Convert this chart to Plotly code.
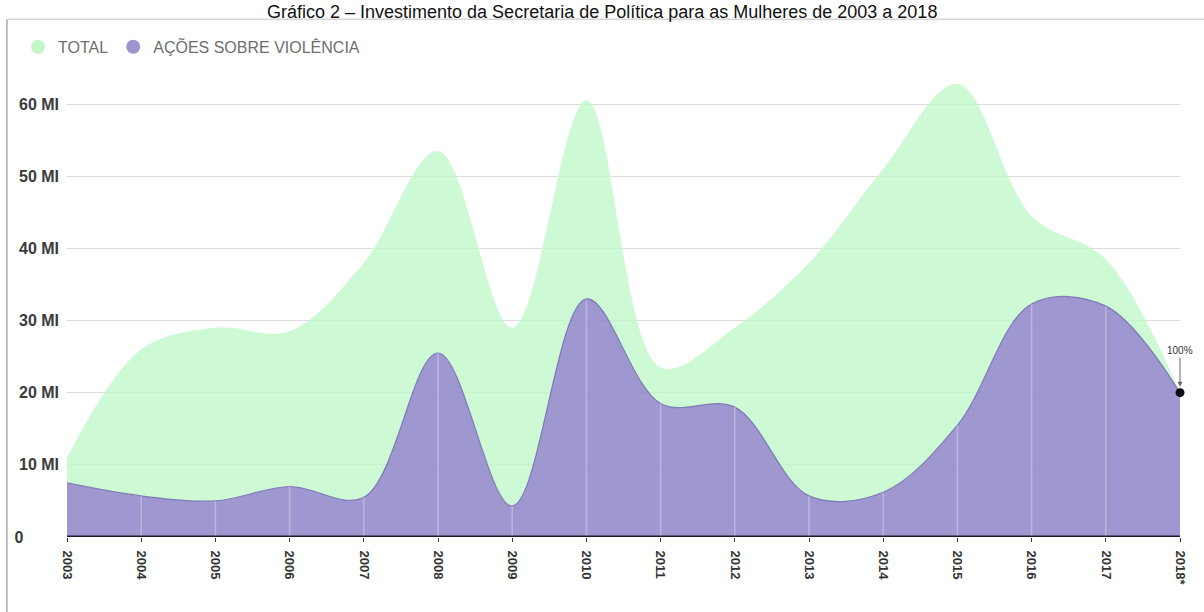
import plotly.graph_objects as go

years = list(range(2003, 2019))
tick_labels = [str(y) for y in range(2003, 2018)] + ["2018*"]
total = [11, 26, 29, 28.5, 38, 53.5, 29, 60.5, 23.5, 29, 38, 51, 62.8, 44.5, 38.5, 20]
violencia = [7.5, 5.7, 5, 7, 5.5, 25.5, 4.3, 33, 18.5, 18, 5.7, 6.2, 15.5, 32.3, 32, 20]
y_ticks = [0, 10, 20, 30, 40, 50, 60]
y_tick_text = ["0" + "&nbsp;" * 8, "10 MI", "20 MI", "30 MI", "40 MI", "50 MI", "60 MI"]

GREEN = "rgba(192,249,201,0.8)"
PURPLE = "rgba(146,137,200,0.88)"
FONT = "Liberation Sans, Arial, sans-serif"

fig = go.Figure()
fig.add_trace(go.Scatter(
    x=years, y=violencia, mode="lines", line=dict(shape="spline", smoothing=1.0, color="rgba(120,112,180,0.9)", width=1.2),
    fill="tozeroy", fillcolor=PURPLE, showlegend=False, hoverinfo="skip"))
fig.add_trace(go.Scatter(
    x=years, y=total, mode="lines", line=dict(shape="spline", smoothing=1.0, color="rgba(0,0,0,0)", width=0),
    fill="tonexty", fillcolor=GREEN, showlegend=False, hoverinfo="skip"))
# legend entries
fig.add_trace(go.Scatter(x=[None], y=[None], mode="markers", name="TOTAL",
                         marker=dict(size=14, color="#c2f5c8")))
fig.add_trace(go.Scatter(x=[None], y=[None], mode="markers", name="AÇÕES SOBRE VIOLÊNCIA",
                         marker=dict(size=14, color="#9d95cf")))
# final point
fig.add_trace(go.Scatter(x=[years[-1]], y=[violencia[-1]], mode="markers",
                         marker=dict(size=9, color="#0a0a14"), showlegend=False, cliponaxis=False))

shapes = []
for yr, v in zip(years[1:-1], violencia[1:-1]):
    shapes.append(dict(type="line", xref="x", yref="y", x0=yr, x1=yr, y0=0, y1=v,
                       line=dict(color="rgba(255,255,255,0.3)", width=1.5), layer="above"))
# frame
shapes.append(dict(type="line", xref="paper", yref="paper", x0=-0.054, x1=-0.054, y0=1.104, y1=-0.3,
                   line=dict(color="#bdbdbd", width=2)))
shapes.append(dict(type="line", xref="paper", yref="paper", x0=-0.054, x1=1.1, y0=1.104, y1=1.104,
                   line=dict(color="#d5d5d5", width=1.5)))
# baseline
shapes.append(dict(type="line", xref="x", yref="y", x0=years[0], x1=years[-1], y0=0, y1=0,
                   line=dict(color="#1c1b33", width=3), layer="above"))

fig.update_layout(
    width=1204, height=612,
    margin=dict(l=67, r=24, t=68, b=75),
    paper_bgcolor="white", plot_bgcolor="white",
    shapes=shapes,
    showlegend=True,
    legend=dict(orientation="h", x=-0.044, xanchor="left", y=1.045, yanchor="middle",
                traceorder="normal",
                font=dict(family=FONT, size=16, color="#6e6e6e"),
                bgcolor="rgba(0,0,0,0)"),
    annotations=[
        dict(text="Gráfico 2 – Investimento da Secretaria de Política para as Mulheres de 2003 a 2018",
             xref="paper", yref="paper", x=0.4807, y=1.1445, xanchor="center", yanchor="top",
             showarrow=False, font=dict(family="Liberation Sans, Arial, sans-serif", size=18, color="#111111")),
        dict(text="100%", x=years[-1], y=violencia[-1], xref="x", yref="y", ax=0, ay=-42,
             showarrow=True, arrowhead=2, arrowsize=1, arrowwidth=1, arrowcolor="#666666", standoff=6,
             font=dict(family=FONT, size=10, color="#333333")),
    ],
    xaxis=dict(range=[years[0], years[-1]], tickmode="array", tickvals=years, ticktext=tick_labels,
               tickangle=90, showgrid=False, zeroline=False, ticks="outside", ticklen=4, tickwidth=1,
               tickcolor="#333333", showline=False, ticklabelstandoff=6,
               tickfont=dict(family=FONT, size=13, color="#333333", weight="bold")),
    yaxis=dict(range=[0, 65], tickmode="array", tickvals=y_ticks, ticktext=y_tick_text,
               showgrid=True, gridcolor="#dcdcdc", gridwidth=1.2, zeroline=False, ticks="",
               ticklabelstandoff=7,
               tickfont=dict(family=FONT, size=16, color="#3a3a3a", weight="bold")),
)

fig.write_html("out.html")
